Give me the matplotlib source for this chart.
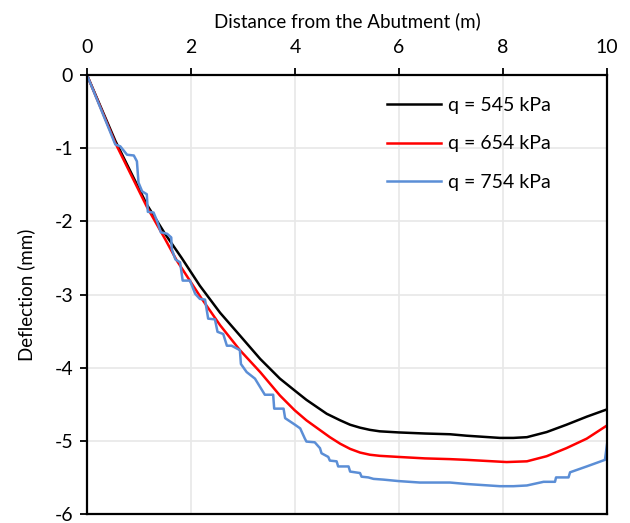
import numpy as np
import matplotlib
matplotlib.use("Agg")
import matplotlib.pyplot as plt

plt.rcParams['font.family'] = ['Lato', 'DejaVu Sans']

#   Deflection curves (x in m, y in mm)
x545 = [0, 0.545, 1.15, 1.5, 1.82, 2.17, 2.56, 2.94, 3.33, 3.71, 3.99, 4.22, 4.61, 4.87,
        5.06, 5.25, 5.44, 5.63, 5.99, 6.5, 6.98, 7.30, 7.94, 8.2, 8.46, 8.84, 9.22, 9.61, 10.0]
y545 = [0, -0.90, -1.77, -2.17, -2.50, -2.88, -3.25, -3.56, -3.88, -4.15, -4.31, -4.44, -4.63, -4.72,
        -4.78, -4.82, -4.85, -4.87, -4.885, -4.90, -4.91, -4.93, -4.96, -4.96, -4.95, -4.88, -4.78, -4.67, -4.57]

x654 = [0, 0.545, 1.15, 1.5, 1.73, 2.17, 2.56, 2.94, 3.33, 3.71, 3.99, 4.22, 4.67, 4.87, 5.06,
        5.25, 5.44, 5.63, 5.99, 6.5, 6.98, 7.30, 8.07, 8.46, 8.84, 9.22, 9.61, 10.0]
y654 = [0, -0.93, -1.80, -2.24, -2.54, -3.02, -3.42, -3.76, -4.06, -4.38, -4.58, -4.72, -4.95, -5.04, -5.11,
        -5.16, -5.19, -5.205, -5.22, -5.24, -5.25, -5.26, -5.29, -5.28, -5.21, -5.10, -4.97, -4.79]

x754 = [0, 0.545, 0.64, 0.77, 0.90, 0.96, 0.99, 1.06, 1.15, 1.17, 1.28, 1.35, 1.42, 1.54, 1.62,
        1.63, 1.70, 1.79, 1.84, 1.98, 2.08, 2.17, 2.27, 2.30, 2.33, 2.46, 2.51, 2.62, 2.69, 2.78,
        2.94, 2.96, 3.07, 3.23, 3.42, 3.58, 3.60, 3.78, 3.81, 4.00, 4.10, 4.19, 4.22, 4.38, 4.48,
        4.51, 4.64, 4.67, 4.80, 4.83, 5.03, 5.06, 5.25, 5.28, 5.41, 5.51, 5.70, 5.99, 6.40, 6.98,
        7.30, 7.94, 8.2, 8.46, 8.78, 9.00, 9.02, 9.26, 9.29, 9.61, 9.96, 10.0]
y754 = [0, -0.95, -0.975, -1.09, -1.10, -1.18, -1.47, -1.59, -1.63, -1.87, -1.88, -2.00, -2.15, -2.17, -2.22,
        -2.38, -2.52, -2.56, -2.81, -2.81, -2.99, -3.06, -3.07, -3.20, -3.33, -3.34, -3.51, -3.54, -3.70, -3.70,
        -3.76, -3.95, -4.06, -4.15, -4.37, -4.37, -4.56, -4.56, -4.69, -4.78, -4.83, -4.97, -5.01, -5.02, -5.10,
        -5.17, -5.22, -5.27, -5.28, -5.35, -5.35, -5.42, -5.44, -5.49, -5.50, -5.52, -5.53, -5.55, -5.57, -5.57,
        -5.59, -5.62, -5.62, -5.61, -5.56, -5.56, -5.50, -5.50, -5.43, -5.35, -5.26, -5.05]

labels = ["q = 545 kPa", "q = 654 kPa", "q = 754 kPa"]
colors = ["black", "#ff0000", "#5b8ed6"]

fig = plt.figure(figsize=(6.3, 5.23), dpi=100)
ax = fig.add_axes([87/630, 1-514/523, 520/630, 439/523])

ax.plot(x545, y545, color=colors[0], lw=1.8, label=labels[0])
ax.plot(x654, y654, color=colors[1], lw=1.8, label=labels[1])
ax.plot(x754, y754, color=colors[2], lw=1.8, label=labels[2])

ax.set_xlim(0, 10)
ax.set_ylim(-6, 0)
ax.set_xticks(np.arange(0, 11, 2))
ax.set_yticks(np.arange(-6, 1, 1))
ax.set_yticklabels([str(v) for v in range(-6, 1)])
ax.xaxis.tick_top()
ax.xaxis.set_label_position('top')
ax.tick_params(axis='both', labelsize=14, length=5, width=1.3, color='black')
ax.tick_params(axis='x', pad=9)
ax.tick_params(axis='y', pad=5)
ax.set_xlabel("Distance from the Abutment (m)", fontsize=13.5, labelpad=8)
ax.set_ylabel("Deflection (mm)", fontsize=13.5, labelpad=14)
ax.grid(color='#e8e8e8', lw=1.2)
ax.set_axisbelow(True)
for s in ax.spines.values():
    s.set_linewidth(1.6)
    s.set_color('black')

ax.legend(loc='upper left', bbox_to_anchor=(0.577, 0.95), frameon=False, fontsize=14,
          handlelength=2.8, handletextpad=0.35, labelspacing=1.1, borderaxespad=0, borderpad=0)

fig.savefig("out.png", dpi=100)
